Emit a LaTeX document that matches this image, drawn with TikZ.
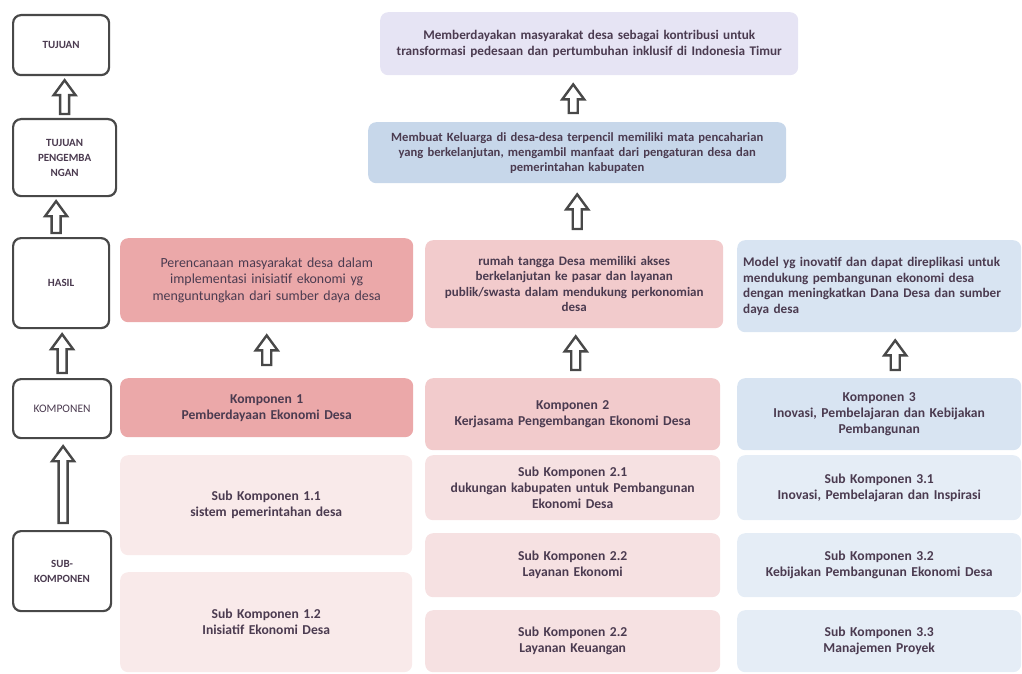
\documentclass[tikz,border=0pt]{standalone}
\usepackage{fontspec}
\setmainfont{Carlito}
\usetikzlibrary{calc,positioning}

\definecolor{txtgray}{HTML}{4B3B50}
\definecolor{framegray}{HTML}{484848}
\definecolor{lavender}{HTML}{E6E4F4}
\definecolor{goalblue}{HTML}{C7D7EA}
\definecolor{redA}{HTML}{EBA8A9}
\definecolor{redB}{HTML}{F2CBCC}
\definecolor{blueC}{HTML}{D8E4F2}
\definecolor{subA}{HTML}{F9EAEA}
\definecolor{subB}{HTML}{F6E1E2}
\definecolor{subC}{HTML}{E5EDF6}

% hollow block arrow from one node up to another
\newcommand{\hollowup}[4][0]{%
  \draw[hollow] let \p1=($(#2.north)+(#1,0)$), \p2=(#3.south) in
    (\x1-4.5pt,\y1+#4pt) -- (\x1-4.5pt,\y2-#4pt-15pt) -- (\x1-11pt,\y2-#4pt-15pt)
    -- (\x1,\y2-#4pt) -- (\x1+11pt,\y2-#4pt-15pt) -- (\x1+4.5pt,\y2-#4pt-15pt)
    -- (\x1+4.5pt,\y1+#4pt) -- cycle;}

\begin{document}
\begin{tikzpicture}[x=1pt,y=-1pt,
    levelbox/.style={draw=framegray, line width=2.2pt, fill=white, rounded corners=8pt,
      anchor=north west, align=center, text=txtgray,
      font=\fontsize{11}{15}\selectfont\bfseries},
    colbox/.style={rounded corners=8pt, anchor=north west, align=center, text=txtgray,
      font=\fontsize{13.6}{16}\selectfont\bfseries, inner sep=4pt},
    hollow/.style={draw=framegray, line width=2.4pt, fill=white, line join=miter}]
    \useasboundingbox (0,0) rectangle (1022,674);

    % Left column: levels
    \node[levelbox, minimum width=96pt, minimum height=60pt] (tujuan) at (12,14) {TUJUAN};
    \node[levelbox, minimum width=103pt, minimum height=77pt] (tujdev) at (12,118) {TUJUAN\\PENGEMBA\\NGAN};
    \node[levelbox, minimum width=96pt, minimum height=90pt] (hasil) at (12,237) {HASIL};
    \node[levelbox, minimum width=98pt, minimum height=59pt, font=\fontsize{11.5}{14}\selectfont] (komp) at (12,378) {KOMPONEN};
    \node[levelbox, minimum width=98pt, minimum height=80pt] (subkomp) at (12,530) {SUB-\\KOMPONEN};

    % Goal and development goal
    \node[colbox, fill=lavender, minimum width=415pt, minimum height=63pt, text width=410pt,
      font=\fontsize{13.2}{16}\selectfont\bfseries] (goal) at (380,12)
      {Memberdayakan masyarakat desa sebagai kontribusi untuk\\transformasi pedesaan dan pertumbuhan inklusif di Indonesia Timur};
    \node[colbox, fill=goalblue, minimum width=415pt, minimum height=61pt, text width=410pt,
      font=\fontsize{12.6}{15}\selectfont\bfseries] (devgoal) at (368,122)
      {Membuat Keluarga di desa-desa terpencil memiliki mata pencaharian\\yang berkelanjutan, mengambil manfaat dari pengaturan desa dan\\pemerintahan kabupaten};

    % Outcomes
    \node[colbox, fill=redA, minimum width=293pt, minimum height=84pt, text width=285pt,
      font=\fontsize{13.9}{16.5}\selectfont] (hasilA) at (120,238)
      {Perencanaan masyarakat desa dalam\\implementasi inisiatif ekonomi yg\\menguntungkan dari sumber daya desa};
    \node[colbox, fill=redB, minimum width=295pt, minimum height=88pt, text width=290pt,
      font=\fontsize{13}{15.5}\selectfont\bfseries] (hasilB) at (425,240)
      {rumah tangga Desa memiliki akses\\berkelanjutan ke pasar dan layanan\\publik/swasta dalam mendukung perkonomian\\desa};
    \node[colbox, fill=blueC, minimum width=284pt, minimum height=92pt, text width=272pt, align=left,
      font=\fontsize{13.2}{15.5}\selectfont\bfseries] (hasilC) at (737,240)
      {Model yg inovatif dan dapat direplikasi untuk\\mendukung pembangunan ekonomi desa\\dengan meningkatkan Dana Desa dan sumber\\daya desa};

    % Components
    \node[colbox, fill=redA, minimum width=293pt, minimum height=59pt, text width=285pt] (kompA) at (120,378)
      {Komponen 1\\Pemberdayaan Ekonomi Desa};
    \node[colbox, fill=redB, minimum width=295pt, minimum height=72pt, text width=287pt] (kompB) at (425,378)
      {Komponen 2\\Kerjasama Pengembangan Ekonomi Desa};
    \node[colbox, fill=blueC, minimum width=284pt, minimum height=72pt, text width=276pt] (kompC) at (737,378)
      {Komponen 3\\Inovasi, Pembelajaran dan Kebijakan\\Pembangunan};

    % Sub-components
    \node[colbox, fill=subA, minimum width=292pt, minimum height=100pt, text width=284pt] (subA1) at (120,455)
      {Sub Komponen 1.1\\sistem pemerintahan desa};
    \node[colbox, fill=subA, minimum width=292pt, minimum height=100pt, text width=284pt] (subA2) at (120,572)
      {Sub Komponen 1.2\\Inisiatif Ekonomi Desa};
    \node[colbox, fill=subB, minimum width=295pt, minimum height=65pt, text width=287pt] (subB1) at (425,455)
      {Sub Komponen 2.1\\dukungan kabupaten untuk Pembangunan\\Ekonomi Desa};
    \node[colbox, fill=subB, minimum width=295pt, minimum height=64pt, text width=287pt] (subB2) at (425,533)
      {Sub Komponen 2.2\\Layanan Ekonomi};
    \node[colbox, fill=subB, minimum width=295pt, minimum height=62pt, text width=287pt] (subB3) at (425,610)
      {Sub Komponen 2.2\\Layanan Keuangan};
    \node[colbox, fill=subC, minimum width=284pt, minimum height=65pt, text width=276pt] (subC1) at (737,455)
      {Sub Komponen 3.1\\Inovasi, Pembelajaran dan Inspirasi};
    \node[colbox, fill=subC, minimum width=284pt, minimum height=64pt, text width=276pt] (subC2) at (737,533)
      {Sub Komponen 3.2\\Kebijakan Pembangunan Ekonomi Desa};
    \node[colbox, fill=subC, minimum width=284pt, minimum height=62pt, text width=276pt] (subC3) at (737,610)
      {Sub Komponen 3.3\\Manajemen Proyek};

    % Arrows
    \hollowup{tujdev}{tujuan}{4}
    \hollowup[-5]{hasil}{tujdev}{4}
    \hollowup{komp}{hasil}{5}
    \hollowup[1]{subkomp}{komp}{7}
    \hollowup[-4]{devgoal}{goal}{9}
    \hollowup[3]{hasilB}{devgoal}{11}
    \hollowup{kompA}{hasilA}{13}
    \hollowup[3]{kompB}{hasilB}{8}
    \hollowup[16]{kompC}{hasilC}{8}
\end{tikzpicture}
\end{document}
